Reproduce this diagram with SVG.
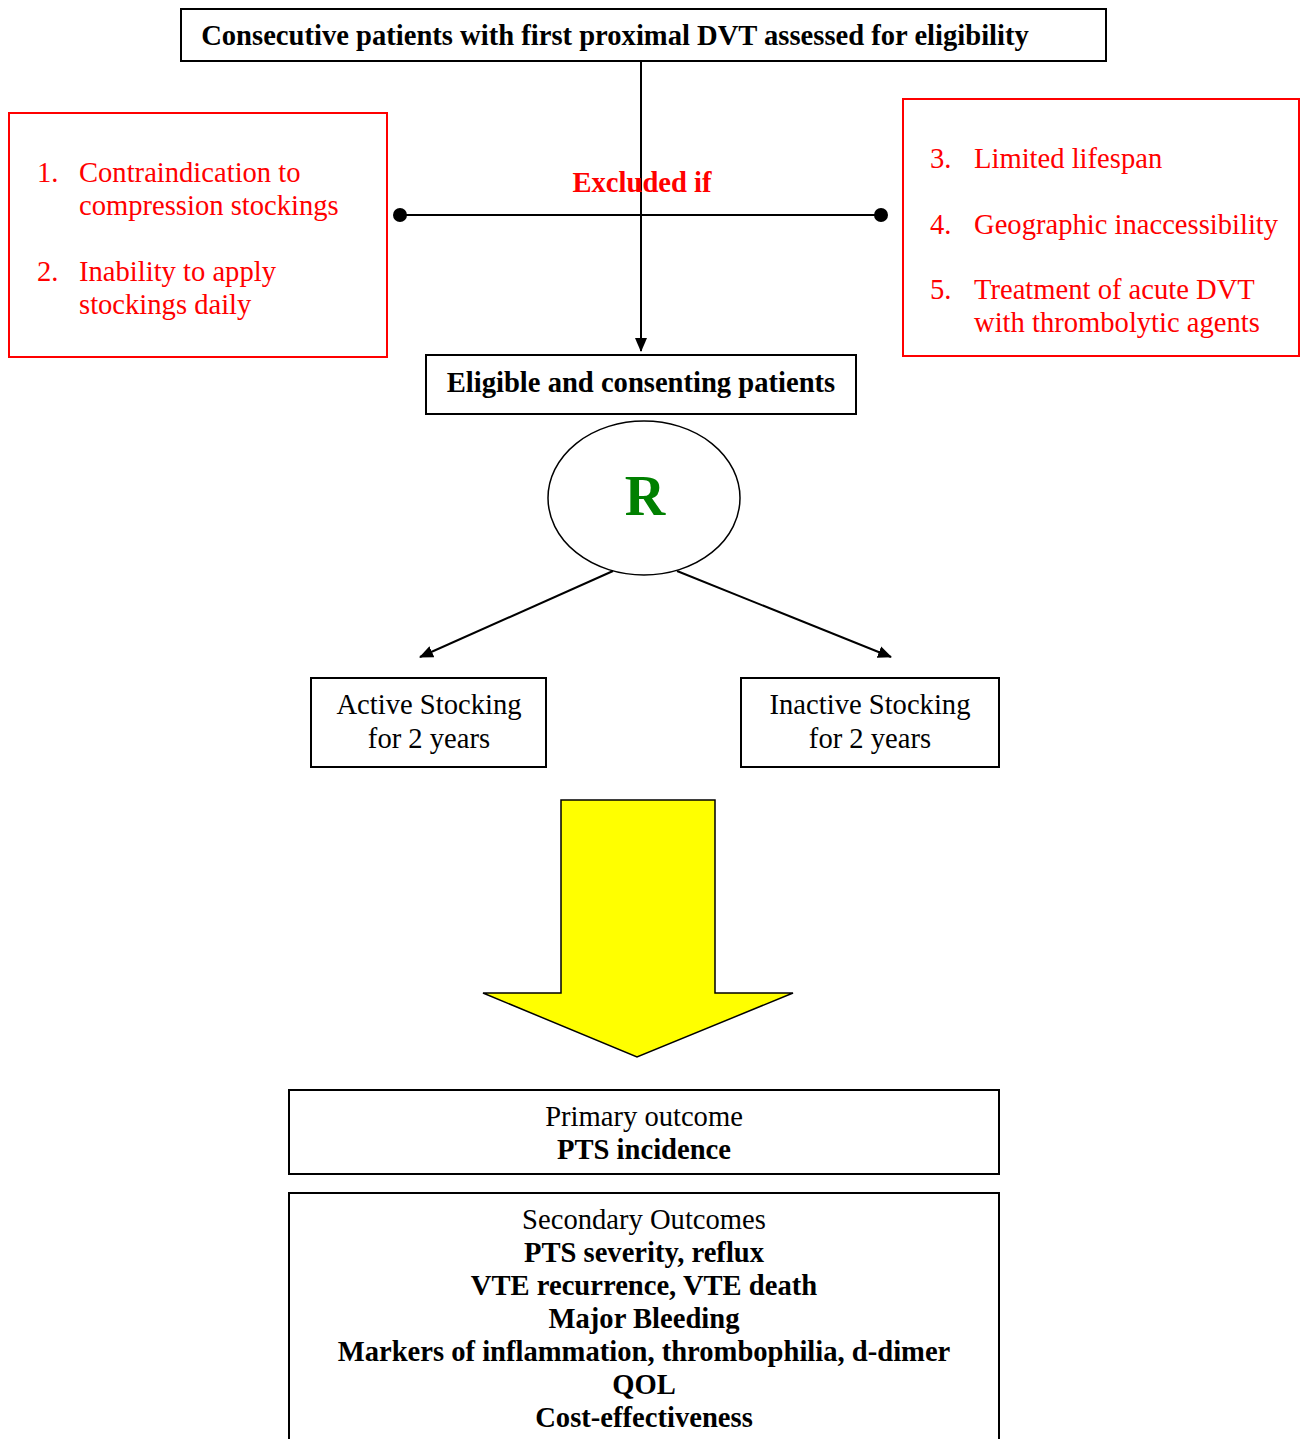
<svg xmlns="http://www.w3.org/2000/svg" width="1301" height="1439" viewBox="0 0 1301 1439">
<style>
text{font-family:"Liberation Serif","Times New Roman",serif;font-size:28.6px}
.b{font-weight:bold}
.red{fill:#ff0000}
.c{text-anchor:middle}
.box{fill:#fff;stroke:#000;stroke-width:2}
.rbox{fill:#fff;stroke:#ff0000;stroke-width:2}
.ln{stroke:#000;stroke-width:2;fill:none}
</style>
<defs>
<marker id="ah2" markerWidth="14" markerHeight="14" refX="13" refY="7" orient="auto" markerUnits="userSpaceOnUse" viewBox="0 0 14 14">
<path d="M0,1 L14,7 L0,13 z" fill="#000"/>
</marker>
</defs>
<g id="connectors">
<line class="ln" x1="641" y1="61" x2="641" y2="351" marker-end="url(#ah2)"/>
<line class="ln" x1="400" y1="215" x2="881" y2="215"/>
<circle cx="400" cy="215" r="7" fill="#000"/>
<circle cx="881" cy="215" r="7" fill="#000"/>
<line class="ln" x1="613" y1="571" x2="420" y2="657" marker-end="url(#ah2)"/>
<line class="ln" x1="677" y1="571" x2="891" y2="657" marker-end="url(#ah2)"/>
</g>
<g id="top">
<rect class="box" x="181" y="9" width="925" height="52"/>
<text class="b c" x="615" y="45">Consecutive patients with first proximal DVT assessed for eligibility</text>
</g>
<g id="excluded-label">
<text class="b red c" x="642" y="192">Excluded if</text>
</g>
<g id="excl-left">
<rect class="rbox" x="9" y="113" width="378" height="244"/>
<text class="red" x="37" y="182">1.</text>
<text class="red" x="79" y="182">Contraindication to</text>
<text class="red" x="79" y="215">compression stockings</text>
<text class="red" x="37" y="281">2.</text>
<text class="red" x="79" y="281">Inability to apply</text>
<text class="red" x="79" y="314">stockings daily</text>
</g>
<g id="excl-right">
<rect class="rbox" x="903" y="99" width="396" height="257"/>
<text class="red" x="930" y="168">3.</text>
<text class="red" x="974" y="168">Limited lifespan</text>
<text class="red" x="930" y="234">4.</text>
<text class="red" x="974" y="234">Geographic inaccessibility</text>
<text class="red" x="930" y="299">5.</text>
<text class="red" x="974" y="299">Treatment of acute DVT</text>
<text class="red" x="974" y="332">with thrombolytic agents</text>
</g>
<g id="eligible">
<rect class="box" x="426" y="355" width="430" height="59"/>
<text class="b c" x="641" y="392">Eligible and consenting patients</text>
</g>
<g id="randomize">
<ellipse cx="644" cy="498" rx="96" ry="77" fill="#fff" stroke="#000" stroke-width="1.5"/>
<text class="b c" x="645" y="515" style="font-size:56px;fill:#008000">R</text>
</g>
<g id="active">
<rect class="box" x="311" y="678" width="235" height="89"/>
<text class="c" x="429" y="714">Active Stocking</text>
<text class="c" x="429" y="748">for 2 years</text>
</g>
<g id="inactive">
<rect class="box" x="741" y="678" width="258" height="89"/>
<text class="c" x="870" y="714">Inactive Stocking</text>
<text class="c" x="870" y="748">for 2 years</text>
</g>
<g id="big-arrow">
<polygon points="561,800 715,800 715,993 793,993 637,1057 483,993 561,993" fill="#ffff00" stroke="#000" stroke-width="1.5"/>
</g>
<g id="primary">
<rect class="box" x="289" y="1090" width="710" height="84"/>
<text class="c" x="644" y="1126">Primary outcome</text>
<text class="b c" x="644" y="1159">PTS incidence</text>
</g>
<g id="secondary">
<rect class="box" x="289" y="1193" width="710" height="270"/>
<text class="c" x="644" y="1229">Secondary Outcomes</text>
<text class="b c" x="644" y="1262">PTS severity, reflux</text>
<text class="b c" x="644" y="1295">VTE recurrence, VTE death</text>
<text class="b c" x="644" y="1328">Major Bleeding</text>
<text class="b c" x="644" y="1361">Markers of inflammation, thrombophilia, d-dimer</text>
<text class="b c" x="644" y="1394">QOL</text>
<text class="b c" x="644" y="1427">Cost-effectiveness</text>
</g>
</svg>
